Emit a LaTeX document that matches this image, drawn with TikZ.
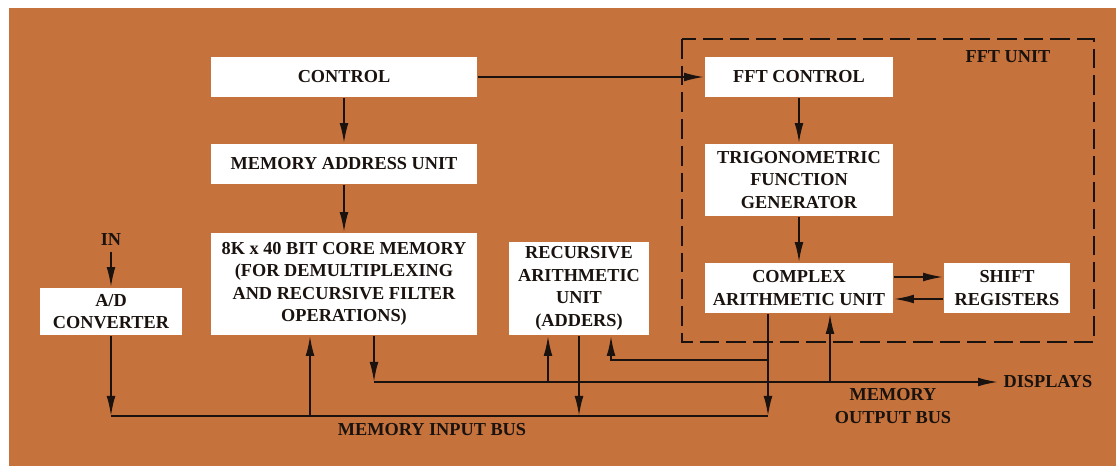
\documentclass[tikz,border=0pt]{standalone}
\usepackage{fontspec}
\setmainfont{Liberation Serif}
\usetikzlibrary{arrows.meta,calc}
\definecolor{board}{RGB}{197,114,60}
\definecolor{ink}{RGB}{25,18,14}

\begin{document}
\begin{tikzpicture}[x=0.025cm,y=-0.025cm,line width=1.3pt,draw=ink,
    blk/.style={fill=white,align=center,inner sep=2pt,text=ink,
      font=\bfseries\fontsize{13}{16}\selectfont},
    lbl/.style={align=center,text=ink,font=\bfseries\fontsize{13}{16}\selectfont},
    >={Latex[length=5mm,width=2.2mm]}]
        % background board
        \fill[white] (0,0) rectangle (1116,466);
        \fill[board] (9,8) rectangle (1116,466);
        \useasboundingbox (0,0) rectangle (1116,466);

        % memory side
        \node[blk,minimum width=6.65cm,minimum height=1cm] (ctl) at (344,77) {CONTROL};
        \node[blk,minimum width=6.65cm,minimum height=1cm] (mau) at (344,164) {MEMORY ADDRESS UNIT};
        \node[blk,minimum width=6.65cm,minimum height=2.55cm] (core) at (344,284)
          {8K x 40 BIT CORE MEMORY\\(FOR DEMULTIPLEXING\\AND RECURSIVE FILTER\\OPERATIONS)};
        \node[blk,minimum width=3.525cm,minimum height=1.175cm] (ad) at (111,311.5) {A/D\\CONVERTER};
        \node[lbl] (in) at (111,240) {IN};
        \node[blk,minimum width=3.5cm,minimum height=2.325cm] (rau) at (579,288.5)
          {RECURSIVE\\ARITHMETIC\\UNIT\\(ADDERS)};

        % fft unit
        \draw[dash pattern=on 14pt off 5pt] (682,39) rectangle (1094,342);
        \node[lbl] (fftu) at (1008,57) {FFT UNIT};
        \node[blk,minimum width=4.7cm,minimum height=1cm] (fftc) at (799,77) {FFT CONTROL};
        \node[blk,minimum width=4.7cm,minimum height=1.8cm] (trig) at (799,180)
          {TRIGONOMETRIC\\FUNCTION\\GENERATOR};
        \node[blk,minimum width=4.7cm,minimum height=1.25cm] (cau) at (799,288)
          {COMPLEX\\ARITHMETIC UNIT};
        \node[blk,minimum width=3.15cm,minimum height=1.25cm] (sr) at (1007,288) {SHIFT\\REGISTERS};

        % bus labels
        \node[lbl,anchor=west] (disp) at (998,382) {DISPLAYS};
        \node[lbl] (mib) at (432,430) {MEMORY INPUT BUS};
        \node[lbl] (mob) at (893,406) {MEMORY\\OUTPUT BUS};

        % bus points
        \coordinate (ib0) at (111,416);
        \coordinate (ib1) at (768,416);
        \coordinate (ci) at (310,416);
        \coordinate (ob0) at (374,382);
        \coordinate (ri) at (548,382);
        \coordinate (rf) at (611,360);
        \coordinate (co) at (830,382);

        \path[->] (ctl) edge (mau) (mau) edge (core) (ctl) edge (fftc)
          (fftc) edge (trig) (trig) edge (cau) (in) edge (ad);
        \draw[->] ($(cau.east)+(0,-11)$) -- ($(sr.west)+(0,-11)$);
        \draw[<-] ($(cau.east)+(0,11)$) -- ($(sr.west)+(0,11)$);

        % memory input bus
        \draw[->] (ad) -- (ib0);
        \draw (ib0) -- (ib1);
        \draw[->] (ci) -- (ci |- core.south);
        \draw[->] (rau) -- (rau |- ib0);
        \draw[->] (cau.south -| ib1) -- (ib1);
        \draw[->] (ib1 |- rf) -- (rf) -- (rf |- rau.south);

        % memory output bus
        \draw[->] (ob0 |- core.south) -- (ob0);
        \draw[->] (ob0) -- (disp);
        \draw[->] (ri) -- (ri |- rau.south);
        \draw[->] (co) -- (co |- cau.south);
\end{tikzpicture}
\end{document}
